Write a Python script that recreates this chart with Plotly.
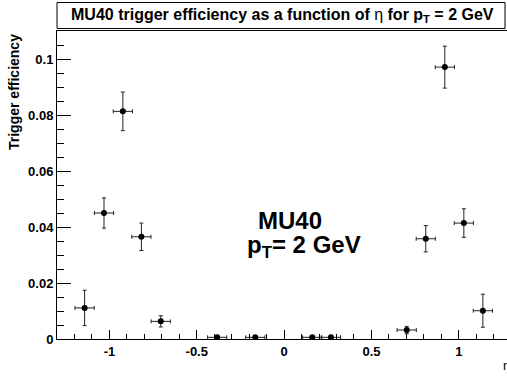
import plotly.graph_objects as go

# Efficiency per eta bin (bins with zero efficiency are not drawn)
eta = [-1.142, -1.031, -0.923, -0.817, -0.706, -0.383, -0.165,
       0.161, 0.268, 0.702, 0.811, 0.920, 1.029, 1.138]
eff = [0.0111, 0.0450, 0.0813, 0.0365, 0.0063, 0.0006, 0.0006,
       0.0006, 0.0006, 0.0032, 0.0358, 0.0971, 0.0414, 0.0101]
eff_err = [0.0063, 0.0054, 0.0069, 0.0049, 0.0020, 0.0003, 0.0003,
           0.0003, 0.0003, 0.0013, 0.0047, 0.0075, 0.0051, 0.0059]
eta_halfwidth = [0.055] * len(eta)

y_ticks = [0, 0.02, 0.04, 0.06, 0.08, 0.1]
y_tick_labels = ["0", "0.02", "0.04", "0.06", "0.08", "0.1"]
x_ticks = [-1, -0.5, 0, 0.5, 1]
x_tick_labels = ["-1", "-0.5", "0", "0.5", "1"]

W, H = 507, 376
ML, MR, MT, MB = 57, 0, 31, 37
FONT = "Liberation Sans, Arial, sans-serif"


def px_to_paper_x(px):
    return (px - ML) / (W - ML - MR)


def px_to_paper_y(py):
    return (H - MB - py) / (H - MT - MB)


fig = go.Figure()
fig.add_trace(go.Scatter(
    x=eta, y=eff, mode="markers",
    marker=dict(symbol="circle", size=6, color="black"),
    error_y=dict(type="data", array=eff_err, color="#222", thickness=1, width=2),
    error_x=dict(type="data", array=eta_halfwidth, color="#222", thickness=1, width=2),
    showlegend=False,
))

axis_font = dict(family=FONT, size=13, color="black", weight="bold")

fig.update_layout(
    width=W, height=H,
    margin=dict(l=ML, r=MR, t=MT, b=MB, pad=0),
    paper_bgcolor="white", plot_bgcolor="white",
    xaxis=dict(
        range=[-1.3, 1.276], tickvals=x_ticks, ticktext=x_tick_labels,
        ticks="inside", ticklen=9, tickwidth=1, tickcolor="black",
        minor=dict(dtick=0.1, ticks="inside", ticklen=5, tickwidth=1, tickcolor="black"),
        showgrid=False, zeroline=False,
        showline=True, linecolor="black", linewidth=1, mirror=True,
        tickfont=axis_font,
    ),
    yaxis=dict(
        range=[0, 0.11], tickvals=y_ticks, ticktext=y_tick_labels,
        ticks="inside", ticklen=14, tickwidth=1, tickcolor="black",
        minor=dict(dtick=0.005, ticks="inside", ticklen=7, tickwidth=1, tickcolor="black"),
        showgrid=False, zeroline=False,
        showline=True, linecolor="black", linewidth=1, mirror=False,
        tickfont=axis_font,
    ),
)

# Title box
fig.add_shape(type="rect", xref="paper", yref="paper",
              x0=px_to_paper_x(57), x1=px_to_paper_x(505),
              y0=px_to_paper_y(28.5), y1=px_to_paper_y(2.5),
              line=dict(color="black", width=1), fillcolor="white", layer="above")
fig.add_annotation(
    xref="paper", yref="paper", x=px_to_paper_x(282), y=px_to_paper_y(15.5),
    xanchor="center", yanchor="middle", showarrow=False,
    text="MU40 trigger efficiency as a function of <span style='font-weight:normal'>η</span> for p<sub>T</sub> = 2 GeV",
    font=dict(family=FONT, size=16, color="black", weight="bold"),
)

# Axis titles
fig.add_annotation(
    xref="paper", yref="paper", x=px_to_paper_x(14), y=px_to_paper_y(32),
    xanchor="center", yanchor="top", textangle=-90, showarrow=False,
    text="Trigger efficiency",
    font=dict(family=FONT, size=14, color="black", weight="bold"),
)
fig.add_annotation(
    xref="paper", yref="paper", x=px_to_paper_x(501), y=px_to_paper_y(366),
    xanchor="left", yanchor="middle", showarrow=False,
    text="η", font=dict(family=FONT, size=13, color="black"),
)

# In-plot label
fig.add_annotation(
    xref="x", yref="y", x=0.034, y=0.0425,
    xanchor="center", yanchor="middle", showarrow=False,
    text="MU40", font=dict(family=FONT, size=24, color="black", weight="bold"),
)
fig.add_annotation(
    xref="x", yref="y", x=0.112, y=0.0330,
    xanchor="center", yanchor="middle", showarrow=False,
    text="p<sub>T</sub>= 2 GeV", font=dict(family=FONT, size=24, color="black", weight="bold"),
)

fig.write_html("out.html")
